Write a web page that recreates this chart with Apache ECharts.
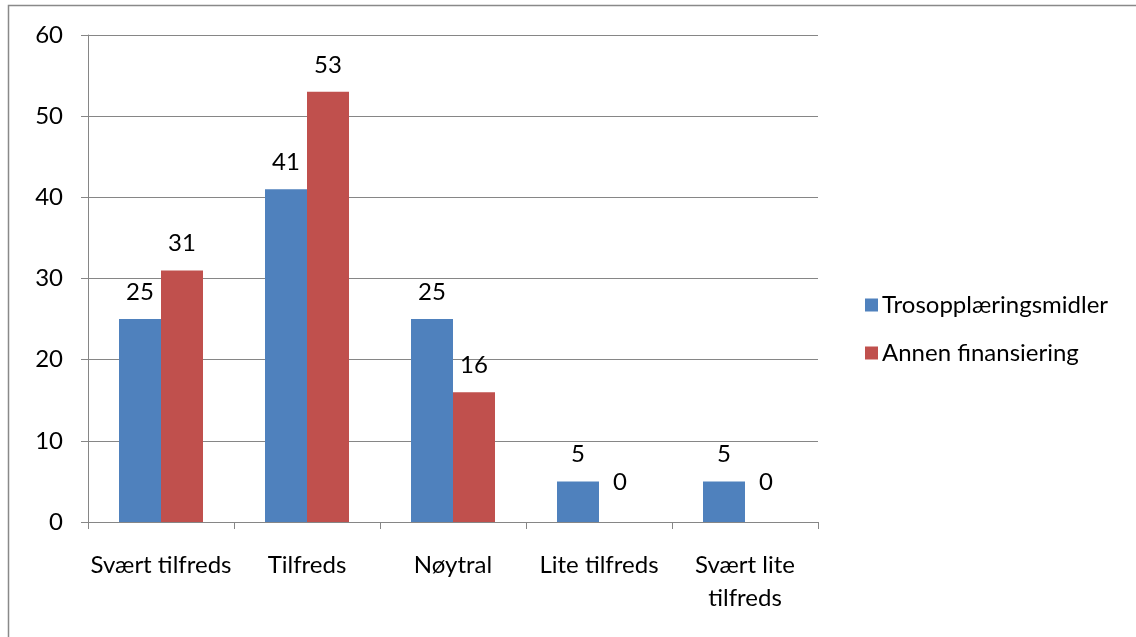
<!DOCTYPE html>
<html>
<head>
<meta charset="utf-8">
<script src="https://cdn.jsdelivr.net/npm/echarts@6/dist/echarts.min.js"></script>
<style>
  html, body { margin: 0; padding: 0; background: #fff; }
  #chart { width: 1136px; height: 637px; }
</style>
</head>
<body>
<div id="chart"></div>
<script>
// Satisfaction per category, two funding types
const categories = ['Svært tilfreds', 'Tilfreds', 'Nøytral', 'Lite tilfreds', 'Svært lite tilfreds'];
const seriesNames = ['Trosopplæringsmidler', 'Annen finansiering'];
const trosopplaering = [25, 41, 25, 5, 5];
const annenFinansiering = [31, 53, 16, 0, 0];
const yTicks = [0, 10, 20, 30, 40, 50, 60];

const FONT = 'Lato, "Noto Sans", sans-serif';
const FONT_SIZE = 24;
const GRID_COLOR = '#868686';

// Zero-height bars get their label lifted a bit higher
function barData(values) {
  return values.map(v => v === 0 ? { value: v, label: { distance: 28 } } : v);
}

// Names longer than two words wrap their last word onto a second line
function wrapName(name) {
  const words = name.split(' ');
  if (words.length <= 2) return name;
  return words.slice(0, -1).join(' ') + '\n' + words[words.length - 1];
}

const chart = echarts.init(document.getElementById('chart'), null, { renderer: 'canvas' });

const valueLabel = {
  show: true,
  position: 'top',
  distance: 15,
  color: '#000',
  fontFamily: FONT,
  fontSize: FONT_SIZE
};

chart.setOption({
  animation: false,
  backgroundColor: '#fff',
  textStyle: { fontFamily: FONT },
  graphic: [{
    type: 'rect',
    shape: { x: 8.5, y: 5.5, width: 1400, height: 1200 },
    style: { fill: 'none', stroke: '#898989', lineWidth: 1.5 },
    silent: true,
    z: -1
  }],
  grid: { left: 88, right: 318, top: 35, bottom: 115, containLabel: false },
  legend: {
    orient: 'vertical',
    left: 860,
    top: 288,
    itemWidth: 13,
    itemHeight: 13,
    itemGap: 24,
    icon: 'rect',
    data: seriesNames,
    textStyle: { fontFamily: FONT, fontSize: FONT_SIZE, color: '#000', padding: [0, 0, 0, -1] }
  },
  xAxis: {
    type: 'category',
    data: categories,
    axisLine: { show: true, lineStyle: { color: GRID_COLOR, width: 1 } },
    axisTick: { show: true, length: 7, alignWithLabel: false, lineStyle: { color: GRID_COLOR } },
    axisLabel: {
      color: '#000',
      fontFamily: FONT,
      fontSize: FONT_SIZE,
      lineHeight: 33,
      margin: 27,
      interval: 0,
      formatter: wrapName
    }
  },
  yAxis: {
    type: 'value',
    min: yTicks[0],
    max: yTicks[yTicks.length - 1],
    interval: yTicks[1] - yTicks[0],
    axisLine: { show: true, lineStyle: { color: GRID_COLOR, width: 1 } },
    axisTick: { show: true, length: 7, lineStyle: { color: GRID_COLOR } },
    splitLine: { show: true, lineStyle: { color: GRID_COLOR, width: 1 } },
    axisLabel: {
      color: '#000',
      fontFamily: FONT,
      fontSize: FONT_SIZE,
      margin: 25
    }
  },
  series: [
    {
      name: seriesNames[0],
      type: 'bar',
      data: barData(trosopplaering),
      barWidth: 42,
      barGap: '0%',
      itemStyle: { color: '#4F81BD' },
      label: valueLabel
    },
    {
      name: seriesNames[1],
      type: 'bar',
      data: barData(annenFinansiering),
      barWidth: 42,
      barGap: '0%',
      itemStyle: { color: '#C0504D' },
      label: valueLabel
    }
  ]
});
</script>
</body>
</html>
